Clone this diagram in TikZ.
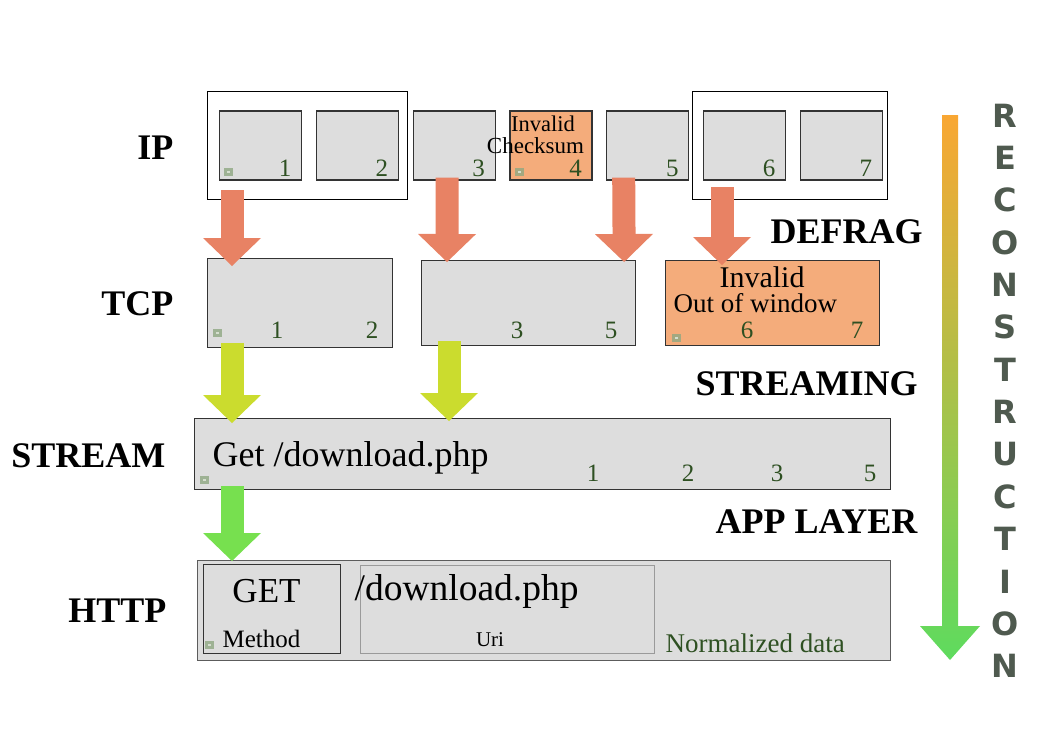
\documentclass[tikz,border=0pt]{standalone}
\usepackage{fontspec}
\setmainfont{Liberation Serif}
\newfontfamily\recfont{DejaVu Sans}
\usetikzlibrary{arrows.meta, positioning, calc}
\definecolor{cpkt}{HTML}{DDDDDD}
\definecolor{cedge}{HTML}{333333}
\definecolor{cbad}{HTML}{F4AC7B}
\definecolor{cnum}{HTML}{2E5022}
\definecolor{ctag}{HTML}{8FA882}
\definecolor{ctagin}{HTML}{D5DECF}
\definecolor{cdefrag}{HTML}{E88264}
\definecolor{cstream}{HTML}{CBDC2E}
\definecolor{capp}{HTML}{77E04F}
\definecolor{ctop}{HTML}{F9A733}
\definecolor{cbot}{HTML}{5EDB5E}
\definecolor{crec}{HTML}{4F5A4F}
\definecolor{curi}{HTML}{9A9A9A}
\newcommand{\pxfont}[1]{\fontsize{#1}{#1}\selectfont}
\tikzset{
  every picture/.style={line width=1.2pt},
  pkt/.style={draw=cedge, fill=#1, minimum width=82pt, minimum height=69pt, inner sep=0pt},
  pkt/.default=cpkt,
  grp/.style={draw=black, fill=white, line width=1pt, inner sep=0pt},
  num/.style={text=cnum, font=\pxfont{25}, inner sep=0pt, anchor=base},
  txt/.style={inner sep=0pt, anchor=base},
  layer/.style={font=\pxfont{36}\bfseries, inner sep=0pt, anchor=base east},
  phase/.style={font=\pxfont{36}\bfseries, inner sep=0pt, anchor=base west},
  rec/.style={font=\recfont\pxfont{32}\bfseries, text=crec, inner sep=0pt},
  fatarrow/.style={draw=#1, line width=23pt, -{Triangle[length=28pt, width=58pt, line width=0pt]}},
  tagmark/.pic={\fill[ctag, opacity=0.8] (-4.5,-4) rectangle (4.5,4);
                \fill[ctagin] (-1.5,-1.1) rectangle (1.5,1.1);},
}
\begin{document}
\begin{tikzpicture}[x=1pt, y=-1pt]
  \useasboundingbox (0,0) rectangle (1052,744);
  % ---------- IP ----------
  \node[grp, anchor=north west, minimum width=200pt, minimum height=108pt] (g1) at (207,91) {};
  \node[grp, anchor=north west, minimum width=195pt, minimum height=108pt] (g2) at (692,91) {};
  \foreach \c [count=\i] in {cpkt,cpkt,cpkt,cbad,cpkt,cpkt,cpkt} {
    \node[pkt=\c] (ip\i) at (260.5+96.8*\i-96.8, 145.5) {};
    \node[num] (ipn\i) at ($(ip\i.south east)+(-17,-4)$) {\i};
  }
  \pic at ($(ip1.south west)+(10,-9)$) {tagmark};
  \pic at ($(ip4.south west)+(10,-9)$) {tagmark};
  \node[txt, font=\pxfont{22.5}] (ck1) at (543,131) {Invalid};
  \node[txt, font=\pxfont{23}] (ck2) at (535.5,153) {Checksum};
  \node[layer] (lip) at (174,159) {IP};
  % ---------- TCP ----------
  \node[pkt, anchor=north west, minimum width=185pt, minimum height=89pt] (tcp1) at (207,258) {};
  \node[pkt, anchor=north west, minimum width=214pt, minimum height=85pt] (tcp2) at (421,260) {};
  \node[pkt=cbad, anchor=north west, minimum width=214pt, minimum height=85pt] (tcp3) at (665,260) {};
  \node[num] (tn1) at (277,338) {1};
  \node[num] (tn2) at (372,338) {2};
  \node[num] (tn3) at (517,338) {3};
  \node[num] (tn5) at (611,338) {5};
  \node[num] (tn6) at (747,338) {6};
  \node[num] (tn7) at (857,338) {7};
  \pic at ($(tcp1.south west)+(10,-15)$) {tagmark};
  \pic at ($(tcp3.south west)+(11,-8)$) {tagmark};
  \node[txt, font=\pxfont{30}] (inv) at (762,287) {Invalid};
  \node[txt, font=\pxfont{27}, anchor=base west] (oow) at (673,312) {Out of window};
  \node[layer] (ltcp) at (174,315) {TCP};
  \node[phase] (defrag) at (770,243) {DEFRAG};
  % ---------- STREAM ----------
  \node[pkt, anchor=north west, minimum width=696pt, minimum height=71pt] (strm) at (194,418) {};
  \node[txt, font=\pxfont{36}, anchor=base west] (get) at (212,466) {Get /download.php};
  \foreach \n/\x [count=\i] in {1/593, 2/688, 3/777, 5/870}
    \node[num] (sn\i) at (\x,481) {\n};
  \pic at ($(strm.south west)+(10.5,-10)$) {tagmark};
  \node[layer] (lstream) at (166,467) {STREAM};
  \node[phase] (streaming) at (695,395) {STREAMING};
  % ---------- HTTP ----------
  \node[pkt, draw=cedge!80, anchor=north west, minimum width=693pt, minimum height=100pt] (http) at (197,560) {};
  \node[pkt, anchor=north west, minimum width=137pt, minimum height=89pt, line width=1pt] (meth) at (203,564) {};
  \node[pkt, draw=curi, anchor=north west, minimum width=294pt, minimum height=88pt, line width=1pt] (uri) at (360,565) {};
  \node[txt, font=\pxfont{35}] (gettxt) at (266.5,602) {GET};
  \node[txt, font=\pxfont{25}, anchor=base west] (methtxt) at (222,647) {Method};
  \node[txt, font=\pxfont{37.5}, anchor=base west] (uritxt) at (354,600) {/download.php};
  \node[txt, font=\pxfont{21}] (urilab) at (490,646) {Uri};
  \node[txt, font=\pxfont{27}, anchor=base west, text=cnum] (norm) at (665,652) {Normalized data};
  \pic at ($(meth.south west)+(6,-9)$) {tagmark};
  \node[layer] (lhttp) at (167,622) {HTTP};
  \node[phase] (app) at (715,533) {APP LAYER};
  % ---------- arrows between layers ----------
  \draw[fatarrow=cdefrag] ($(g1.south west)+(25,-10)$) -- ($(tcp1.north west)+(25,8)$);
  \draw[fatarrow=cdefrag] ($(ip3.south)+(-7,-3)$) -- ($(tcp2.north west)+(26,2)$);
  \draw[fatarrow=cdefrag] ($(ip5.south)+(-24,-3)$) -- ($(tcp2.north east)+(-12,2)$);
  \draw[fatarrow=cdefrag] ($(g2.south west)+(30,-13)$) -- ($(tcp3.north west)+(57,5)$);
  \draw[fatarrow=cstream] ($(tcp1.south west)+(25,-5)$) -- ($(strm.north west)+(38,5)$);
  \draw[fatarrow=cstream] ($(tcp2.south west)+(28,-5)$) -- ($(strm.north west)+(255,3)$);
  \draw[fatarrow=capp] ($(strm.south west)+(38,-4)$) -- ($(http.north west)+(35,1)$);
  % ---------- reconstruction ----------
  \coordinate (rtop) at (950,115);
  \coordinate (rtip) at (950,660);
  \shade[top color=ctop, bottom color=cbot]
    ($(rtop)+(-8,0)$) -- ($(rtip)+(-8,-34)$) -- ($(rtip)+(-30,-34)$) -- (rtip)
    -- ($(rtip)+(30,-34)$) -- ($(rtip)+(8,-34)$) -- ($(rtop)+(8,0)$) -- cycle;
  \foreach \l [count=\i] in {R,E,C,O,N,S,T,R,U,C,T,I,O,N}
    \node[rec] (r\i) at (1005, 115.5+42.35*\i-42.35) {\l};
\end{tikzpicture}
\end{document}
